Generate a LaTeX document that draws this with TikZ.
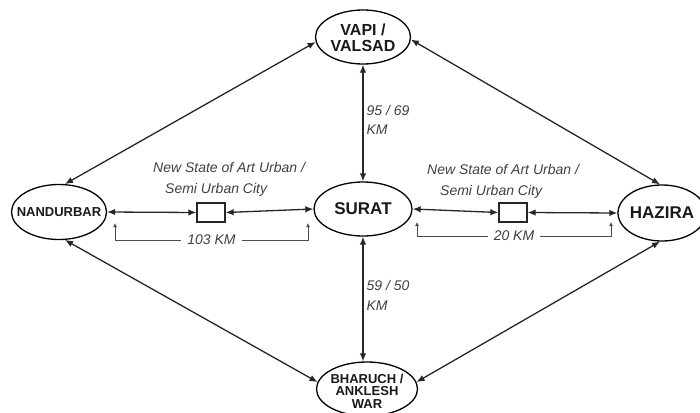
\documentclass[tikz,border=0pt]{standalone}
\usepackage{fontspec}
\setmainfont{Liberation Sans}
\usepackage{tikz}
\usetikzlibrary{arrows.meta,shapes}

\begin{document}
\begin{tikzpicture}[x=1pt,y=-1pt,>={Latex[length=8pt,width=6.5pt]},
city/.style 2 args={ellipse,draw=black,line width=1.3pt,inner sep=0pt,minimum width=#1,minimum height=#2},
cname/.style={font=\bfseries\fontsize{#1}{#1}\selectfont,align=center,text=black!90},
hub/.style={draw=black!85,line width=1.3pt,minimum width=28pt,minimum height=19pt,inner sep=0pt},
link/.style={<->,line width=1.3pt,draw=black!85},
dim/.style={<->,>={Latex[length=4pt,width=4pt]},line width=0.9pt,draw=black!70},
note/.style={font=\itshape\fontsize{14}{21}\selectfont,text=black!75,inner sep=0pt}]
\useasboundingbox (0,0) rectangle (700,412);
% cities
\node[city={95pt}{54pt},label={[cname=16,yshift=-1pt]center:VAPI /\\VALSAD}] (vapi) at (363,37) {};
\node[city={98pt}{54pt},label={[cname=17]center:SURAT}] (surat) at (363,209) {};
\node[city={95pt}{55pt},label={[cname=13]center:NANDURBAR}] (nandurbar) at (59,212) {};
\node[city={88pt}{56pt},label={[cname=17]center:HAZIRA}] (hazira) at (662,213) {};
\node[city={101pt}{54pt},label={[font=\bfseries\fontsize{13}{12.5}\selectfont,align=center,text=black!90,yshift=-2pt]center:BHARUCH /\\ANKLESH\\WAR}] (bharuch) at (367,389) {};
% new cities
\node[hub] (newcity1) at (211,212.5) {};
\node[hub] (newcity2) at (513,212.5) {};
\node[note,align=left,anchor=west] (note1) at (153,179) {New State of Art Urban /\\\hspace*{12pt}Semi Urban City};
\node[note,align=left,anchor=west] (note2) at (427,181) {New State of Art Urban /\\\hspace*{13pt}Semi Urban City};
% links
\draw[link] (nandurbar.78)--(vapi.186);
\draw[link] (vapi.357)--(hazira.94);
\draw[link] (nandurbar.282)--(bharuch.172);
\draw[link] (bharuch.8)--(hazira.266);
\draw[link] (vapi.south)--node[note,align=left,anchor=west,xshift=3pt,yshift=3pt,font=\itshape\fontsize{14}{19}\selectfont]{95 / 69\\KM}(surat.north);
\draw[link] (surat.south)--node[note,align=left,anchor=west,xshift=3pt,yshift=4pt,font=\itshape\fontsize{14}{20}\selectfont]{59 / 50\\KM}(surat.south|-bharuch.north);
\draw[link] (nandurbar.east)--(newcity1.west);
\draw[link] (newcity1.east)--(surat.west);
\draw[link] (surat.east)--(newcity2.west);
\draw[link] (newcity2.east)--(hazira.west);
% distances
\coordinate (d1) at (115,223);
\coordinate (d2) at (308,223);
\coordinate (d3) at (417,222);
\coordinate (d4) at (611,222);
\draw[dim] (d1)--++(0,17)--node[fill=white,text=black!75,font=\itshape\fontsize{14}{14}\selectfont,inner xsep=6pt]{103 KM}(d2|-0,240)--(d2);
\draw[dim] (d3)--++(0,14)--node[fill=white,text=black!75,font=\itshape\fontsize{14}{14}\selectfont,inner xsep=6pt]{20 KM}(d4|-0,236)--(d4);
\end{tikzpicture}
\end{document}
